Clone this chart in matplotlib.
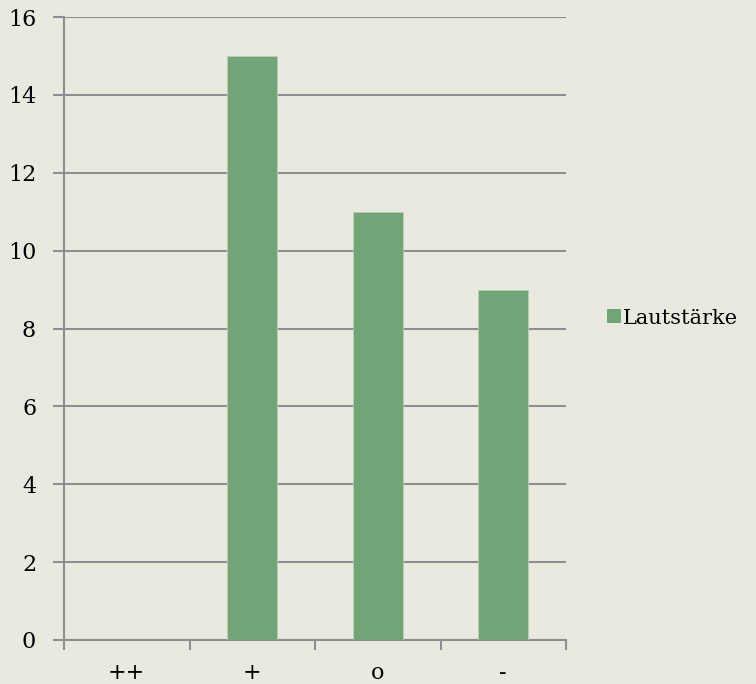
import matplotlib
matplotlib.use("Agg")
import matplotlib.pyplot as plt
from matplotlib.patches import Patch
import numpy as np

categories = ["++", "+", "o", "-"]
values = [0, 15, 11, 9]
series_name = "Lautstärke"
y_ticks = [0, 2, 4, 6, 8, 10, 12, 14, 16]

bg = "#EAE9DF"
bar_color = "#71A476"
line_color = "#8E8E8E"

plt.rcParams["font.family"] = ["DejaVu Serif"]

fig = plt.figure(figsize=(7.56, 6.84), dpi=100, facecolor=bg)
ax = fig.add_axes([64 / 756, 44 / 684, 502 / 756, 623 / 684])
ax.set_facecolor(bg)

x = np.arange(len(categories))
ax.bar(x, values, width=0.4, color=bar_color, edgecolor="#B9CFB3", linewidth=0.6, zorder=3)

ax.set_xlim(-0.5, len(categories) - 0.5)
ax.set_ylim(0, 16)
ax.set_yticks(y_ticks)
ax.set_yticklabels([str(v) for v in y_ticks], fontsize=16)
ax.yaxis.grid(True, color=line_color, linewidth=1.5, zorder=0)
ax.tick_params(axis="y", length=8, width=1.5, color=line_color, pad=12)

# category boundary ticks on the x axis, labels centred between them
ax.set_xticks(np.arange(len(categories) + 1) - 0.5)
ax.set_xticklabels([])
ax.set_xticks(x, minor=True)
ax.set_xticklabels(categories, minor=True, fontsize=16)
ax.tick_params(axis="x", which="major", length=7, width=1.5, color=line_color)
ax.tick_params(axis="x", which="minor", length=0, pad=16)

for side in ["top", "right"]:
    ax.spines[side].set_visible(False)
for side in ["left", "bottom"]:
    ax.spines[side].set_color(line_color)
    ax.spines[side].set_linewidth(1.5)

handle = Patch(facecolor=bar_color, edgecolor="none")
fig.legend([handle], [series_name], loc="center left", bbox_to_anchor=(607 / 756, 1 - 318 / 684),
           frameon=False, fontsize=15, handlelength=0.65, handleheight=0.65, handletextpad=0.12,
           borderpad=0, borderaxespad=0)

fig.savefig("out.png", dpi=100, facecolor=bg)
